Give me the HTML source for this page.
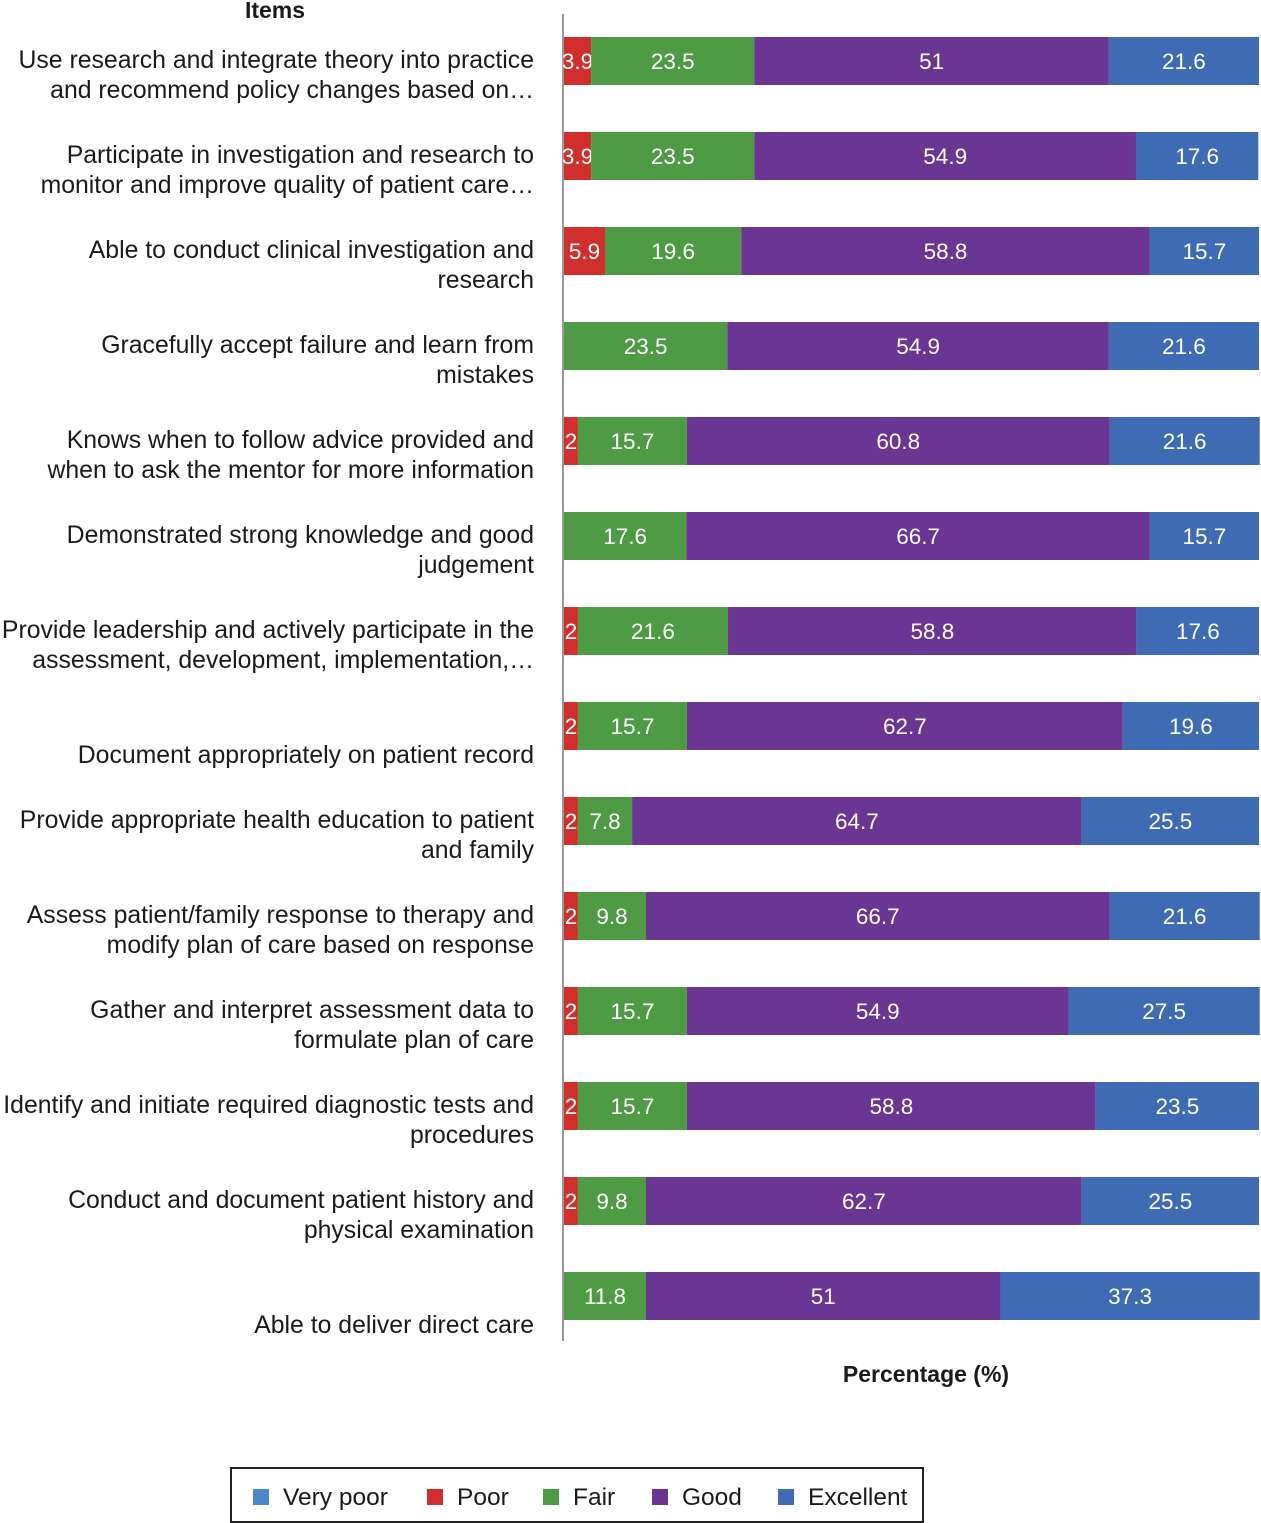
<!DOCTYPE html>
<html><head><meta charset="utf-8"><style>
body{margin:0;background:#fff;}
svg{display:block;font-family:"Liberation Sans",Arial,sans-serif;}
</style></head><body>
<svg id="chart" width="1261" height="1523" viewBox="0 0 1261 1523" xmlns="http://www.w3.org/2000/svg">
<text x="275" y="18" text-anchor="middle" font-size="23" font-weight="bold" fill="#1a1a1a">Items</text>
<line x1="563" y1="14" x2="563" y2="1341" stroke="#999" stroke-width="2"/>
<g id="bars"></g>
<text x="926" y="1382" text-anchor="middle" font-size="23" font-weight="bold" fill="#1a1a1a">Percentage (%)</text>
<g>
<rect x="231" y="1468" width="692" height="54" fill="#fff" stroke="#222" stroke-width="2"/>
</g>
<g id="legend"></g>
</svg>
<script>
const categories = [
 ["Use research and integrate theory into practice","and recommend policy changes based on…"],
 ["Participate in investigation and research to","monitor and improve quality of patient care…"],
 ["Able to conduct clinical investigation and","research"],
 ["Gracefully accept failure and learn from","mistakes"],
 ["Knows when to follow advice provided and","when to ask the mentor for more information"],
 ["Demonstrated strong knowledge and good","judgement"],
 ["Provide leadership and actively participate in the","assessment, development, implementation,…"],
 ["","Document appropriately on patient record"],
 ["Provide appropriate health education to patient","and family"],
 ["Assess patient/family response to therapy and","modify plan of care based on response"],
 ["Gather and interpret assessment data to","formulate plan of care"],
 ["Identify and initiate required diagnostic tests and","procedures"],
 ["Conduct and document patient history and","physical examination"],
 ["","Able to deliver direct care"]
];
const veryPoor = [0,0,0,0,0,0,0,0,0,0,0,0,0,0];
const poor = [3.9,3.9,5.9,0,2,0,2,2,2,2,2,2,2,0];
const fair = [23.5,23.5,19.6,23.5,15.7,17.6,21.6,15.7,7.8,9.8,15.7,15.7,9.8,11.8];
const good = [51,54.9,58.8,54.9,60.8,66.7,58.8,62.7,64.7,66.7,54.9,58.8,62.7,51];
const excellent = [21.6,17.6,15.7,21.6,21.6,15.7,17.6,19.6,25.5,21.6,27.5,23.5,25.5,37.3];
const seriesNames = ["Very poor","Poor","Fair","Good","Excellent"];
const colors = ["#4a88c9","#d12f2e","#4f9a45","#6a3593","#3e6bb3"];
const series = [veryPoor,poor,fair,good,excellent];
const NS="http://www.w3.org/2000/svg";
const x0=564, pxPer=6.95, rowTop=37, rowStep=95, barH=48;
const xs=v=>v*pxPer;
const ys=i=>rowTop+i*rowStep;
const g=document.getElementById('bars');
function mk(tag,attrs){const e=document.createElementNS(NS,tag);for(const k in attrs)e.setAttribute(k,attrs[k]);return e;}
categories.forEach((lab,i)=>{
  const y=ys(i);
  const cy=y+barH/2;
  if(lab[0]){
    const t=mk('text',{x:534,y:cy+7,'text-anchor':'end','font-size':24.8,fill:'#1a1a1a'});
    t.textContent=lab[0];
    
    
    g.appendChild(t);
  }
  const t2=mk('text',{x:534,y:cy+37,'text-anchor':'end','font-size':24.8,fill:'#1a1a1a'});
  t2.textContent=lab[1];
  
  
  g.appendChild(t2);
  let acc=0;
  series.forEach((s,k)=>{
    const v=s[i];
    if(v<=0)return;
    const x=x0+xs(acc), w=xs(v);
    const r=mk('rect',{x:x,y:y,width:w,height:barH,fill:colors[k]});
    
    
    g.appendChild(r);
    const vt=mk('text',{x:x+w/2,y:cy+8,'text-anchor':'middle','font-size':22.5,fill:'#fff'});
    vt.textContent=String(v);
    
    
    g.appendChild(vt);
    acc+=v;
  });
});
const lg=document.getElementById('legend');
const lx=[253,427,543,652,778];
seriesNames.forEach((n,k)=>{
  const r=mk('rect',{x:lx[k],y:1489,width:16,height:16,fill:colors[k]});
  
  
  lg.appendChild(r);
  const t=mk('text',{x:lx[k]+30,y:1505,'font-size':24.5,fill:'#1a1a1a'});
  t.textContent=n;
  
  
  lg.appendChild(t);
});
</script>
</body></html>
